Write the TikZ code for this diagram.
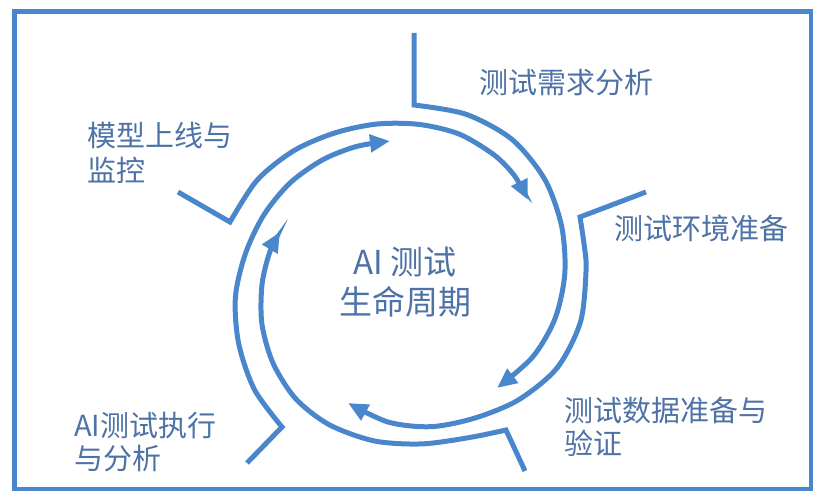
\documentclass[tikz,border=0pt]{standalone}
\usepackage{fontspec}
\setmainfont{Noto Sans CJK SC}
\usetikzlibrary{arrows.meta}
\definecolor{arcblue}{RGB}{74,134,204}
\definecolor{txtblue}{RGB}{78,114,166}
\begin{document}
\begin{tikzpicture}[x=1pt,y=-1pt,
  ring/.style={draw=arcblue, line width=5pt, line join=miter,
    -{Triangle[length=20pt,width=17pt]}},
  lbl/.style={text=txtblue, font=\fontsize{29}{33}\selectfont, align=left,
    anchor=north west, inner sep=0pt},
  ctr/.style={text=txtblue, font=\fontsize{33}{40}\selectfont, align=center,
    inner sep=0pt}]
\useasboundingbox (0,0) rectangle (823,500);
\draw[arcblue, line width=4.5pt] (14.5,11.5) rectangle (811,489);

% junctions, free ends and arrow tips
\coordinate (eT)  at (414,33);   \coordinate (jT)  at (414,105);  \coordinate (tT)  at (497,388);
\coordinate (eR)  at (646,192);  \coordinate (jR)  at (580,217);  \coordinate (tR)  at (348,403);
\coordinate (eBR) at (525,471);  \coordinate (jBR) at (506,430);  \coordinate (tBR) at (280,232);
\coordinate (eBL) at (247,463);  \coordinate (jBL) at (282,427);  \coordinate (tBL) at (390,141);
\coordinate (eTL) at (178,192);  \coordinate (jTL) at (230,222);  \coordinate (tTL) at (528,200);

% top segment
\draw[ring] (eT) -- plot[smooth, tension=0.5] coordinates {(jT) (465.8,114.2) (511.7,139.2) (544.6,179.1) (561.6,226.1) (564.8,273.8) (555.0,318.7) (532.7,356.9) (tT)};
% right segment
\draw[ring] (eR) -- plot[smooth, tension=0.5] coordinates {(jR) (584.1,244.6) (586.1,269.5) (580.5,321.8) (557.0,368.0) (518.1,400.1) (474.4,418.2) (430.9,426.7) (388.3,422.1) (tR)};
% bottom-right segment
\draw[ring] (eBR) -- plot[smooth, tension=0.5] coordinates {(jBR) (470.7,437.3) (422.2,443.9) (374.2,440.9) (329.0,424.6) (295.5,398.5) (273.0,363.1) (261.9,323.9) (262.0,284.6) (269.6,252.6) (tBR)};
% bottom-left segment
\draw[ring] (eBL) -- plot[smooth, tension=0.5] coordinates {(jBL) (254.4,389.5) (238.7,343.6) (235.4,297.1) (245.5,253.4) (263.9,214.8) (290.0,183.0) (322.5,159.9) (356.0,146.6) (tBL)};
% top-left segment
\draw[ring] (eTL) -- plot[smooth, tension=0.5] coordinates {(jTL) (257.1,180.2) (293.8,150.7) (335.2,132.8) (377.3,124.0) (419.0,124.4) (459.0,134.0) (493.8,154.7) (514.4,175.6) (tTL)};

% labels
\node[lbl] (l1) at (479,69)  {测试需求分析};
\node[lbl] (l2) at (614,215) {测试环境准备};
\node[lbl] (l3) at (564,397) {测试数据准备与\\验证};
\node[lbl] (l4) at (74,412)  {AI测试执行\\与分析};
\node[lbl, font=\fontsize{29}{35}\selectfont] (l5) at (87,122) {模型上线与\\监控};
\node[ctr] (c) at (405,282) {AI 测试\\生命周期};
\end{tikzpicture}
\end{document}
